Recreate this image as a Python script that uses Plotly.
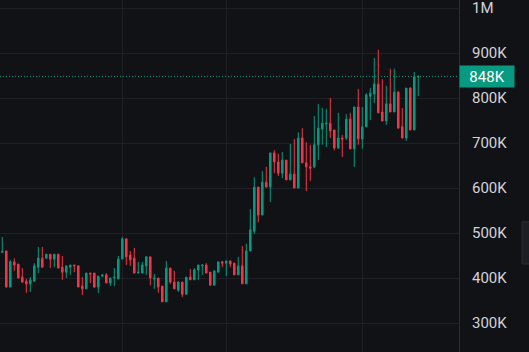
import plotly.graph_objects as go

# Prices in thousands (K)
opens = [457,460,380,436,431,402,393,387,393,424,444,444,453,442,453,424,413,424,429,427,
         382,376,411,411,380,404,407,389,400,398,442,487,451,444,411,411,427,447,398,400,
         382,347,422,391,373,391,364,402,396,418,427,429,413,384,413,436,433,438,433,407,
         427,387,460,504,602,540,613,602,678,658,633,662,618,631,600,711,656,647,647,696,
         731,742,744,729,689,711,711,753,687,780,709,736,804,809,831,769,749,787,769,813,
         736,711,822,729,847]
highs = [491,461,440,444,431,422,398,402,433,469,469,453,453,453,453,449,427,429,429,427,
         402,411,411,411,404,407,411,400,422,449,491,487,460,467,436,436,447,447,409,400,
         382,438,422,416,393,391,402,420,422,429,429,433,413,416,436,438,438,438,433,447,
         471,476,553,624,602,638,647,678,684,676,680,662,698,709,724,733,702,696,760,787,
         778,776,800,729,767,718,764,767,780,820,780,811,822,889,907,842,827,865,865,816,
         778,822,824,858,850]
lows = [457,379,380,416,400,389,367,369,391,411,424,444,422,424,422,396,400,407,413,380,
        362,376,389,378,367,404,389,382,382,398,442,429,427,411,411,411,407,384,376,367,
        347,347,387,376,369,358,364,396,396,396,407,411,384,384,413,424,404,424,407,407,
        387,387,460,498,524,540,602,569,633,627,622,618,618,600,600,656,593,616,644,662,
        696,691,711,684,687,669,707,687,647,696,687,736,751,789,767,749,740,769,769,733,
        711,705,729,729,804]
closes = [459,380,436,429,400,391,387,396,427,444,424,453,442,453,422,413,427,429,427,380,
          376,411,409,380,404,407,389,400,402,442,487,447,440,411,413,429,447,400,400,380,
          347,422,391,376,391,364,402,396,418,429,429,411,384,416,436,433,438,431,407,427,
          387,460,507,602,540,613,602,678,658,633,662,618,631,600,711,656,647,644,696,733,
          744,744,727,689,711,709,753,687,780,709,736,807,811,831,767,749,787,769,813,733,
          711,822,729,847,848]

last_price = 848
tick_vals = [300, 400, 500, 600, 700, 800, 900, 1000]
tick_text = ["300K", "400K", "500K", "600K", "700K", "800K", "900K", "1M"]
vgrid_idx = [30, 56, 90]

UP = "#089981"
DOWN = "#F23645"
BG = "#111216"
GRID = "#1e2026"
TXT = "#d1d4dc"

x = list(range(len(opens)))

fig = go.Figure(go.Candlestick(
    x=x, open=opens, high=highs, low=lows, close=closes,
    increasing=dict(line=dict(color=UP, width=1), fillcolor=UP),
    decreasing=dict(line=dict(color=DOWN, width=1), fillcolor=DOWN),
    whiskerwidth=0, hoverinfo="skip", showlegend=False,
))

fig.add_shape(type="line", xref="paper", x0=0, x1=1, yref="y", y0=last_price, y1=last_price,
              line=dict(color=UP, width=1, dash="1px,2px"), layer="above")

fig.add_annotation(xref="paper", x=1, xanchor="left", yref="y", y=last_price, yanchor="middle",
                   text="848K", showarrow=False, bgcolor=UP, width=48, height=15, borderpad=3,
                   font=dict(family="Roboto", size=15, color="#ffffff"))

# small scroll handle on right edge
fig.add_shape(type="rect", xref="paper", yref="paper", x0=1.1375, x1=1.16, y0=0.25, y1=0.37,
              fillcolor="#1c1e24", line=dict(color="#2a2d35", width=1), layer="above")

fig.update_layout(
    width=529, height=352,
    margin=dict(l=0, r=70, t=0, b=0),
    paper_bgcolor=BG, plot_bgcolor=BG,
    boxgap=0.45,
    xaxis=dict(range=[-0.575, 114.18], rangeslider=dict(visible=False), showticklabels=False,
               tickvals=vgrid_idx, showgrid=True, gridcolor=GRID, gridwidth=1, zeroline=False,
               showline=False, ticks=""),
    yaxis=dict(side="right", range=[235.6, 1017.8], tickvals=tick_vals, ticktext=tick_text,
               showgrid=True, gridcolor=GRID, gridwidth=1, zeroline=False,
               showline=True, linecolor="#2a2d35", linewidth=1, ticks="",
               ticklabelstandoff=9, ticklabeloverflow="allow",
               tickfont=dict(family="Roboto", size=15, color=TXT)),
)

fig.write_html("out.html")
